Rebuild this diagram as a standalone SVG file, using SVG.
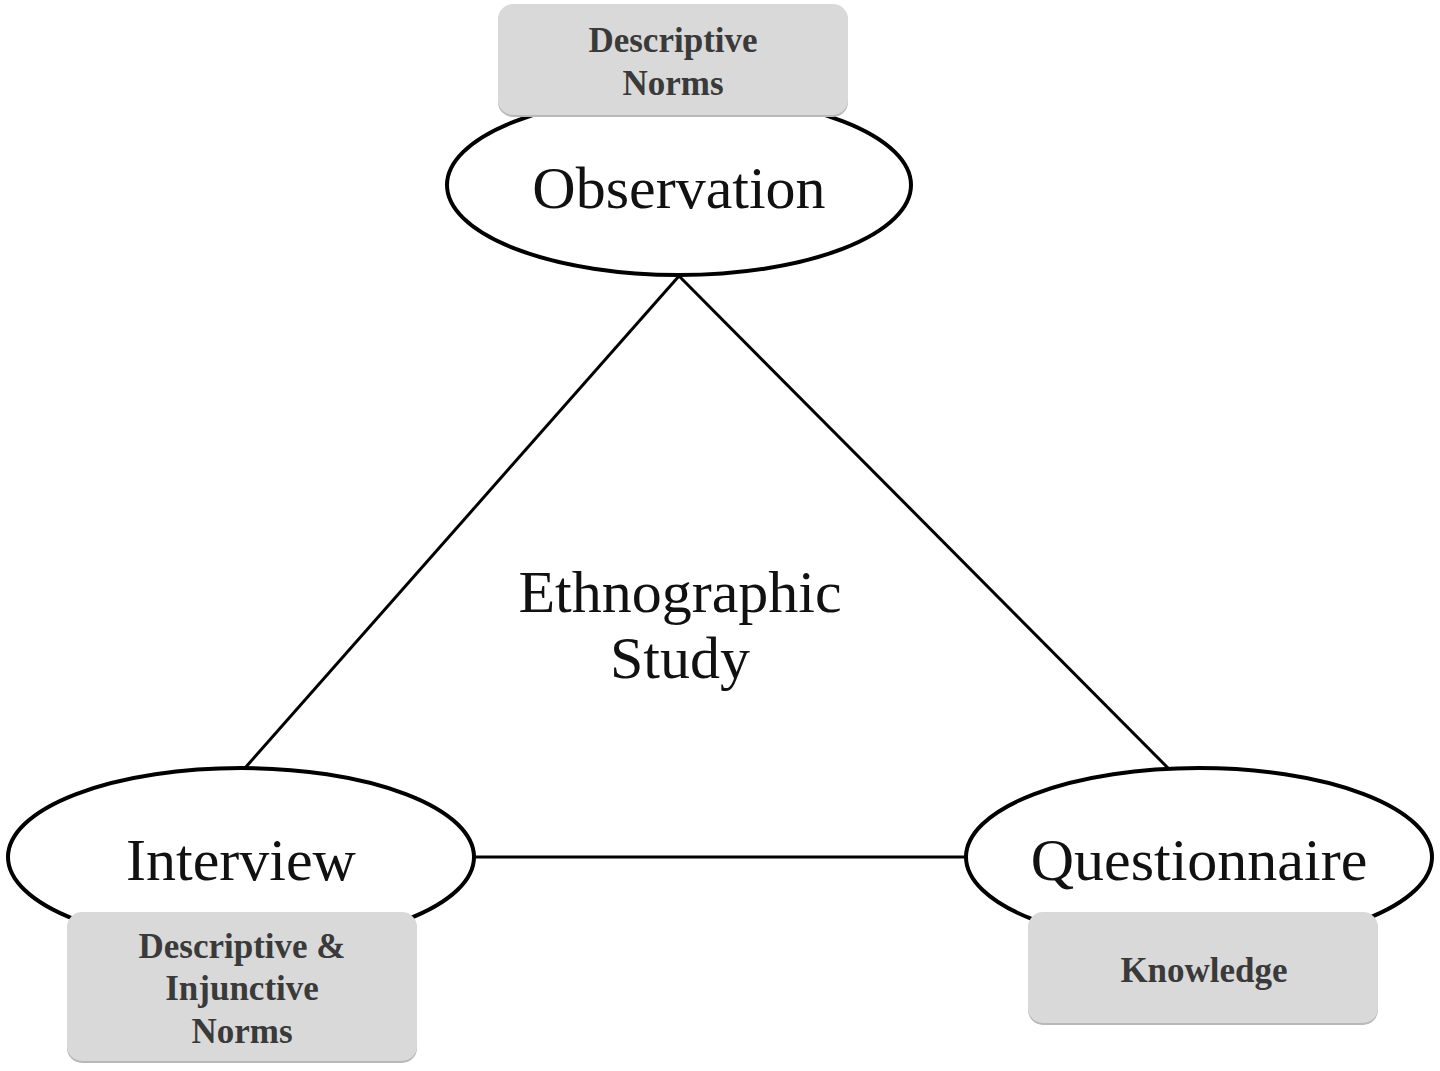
<svg xmlns="http://www.w3.org/2000/svg" width="1440" height="1071" viewBox="0 0 1440 1071">
<style>
.ell{fill:#fff;stroke:#000;stroke-width:4}
.box{fill:#d9d9d9}
.sh{fill:#b8b8b8}
.big{font-family:"Liberation Serif",serif;font-size:60px;fill:#111;text-anchor:middle}
.small{font-family:"Liberation Serif",serif;font-size:35px;fill:#3a3a3a;text-anchor:middle;font-weight:bold}
.con{stroke:#000;stroke-width:3;fill:none}
</style>
<rect width="1440" height="1071" fill="#fff"/>
<g id="connectors">
<line class="con" x1="679" y1="276" x2="245" y2="768"/>
<line class="con" x1="679" y1="276" x2="1168" y2="768"/>
<line class="con" x1="474" y1="857" x2="966" y2="857"/>
</g>
<g id="observation">
<ellipse class="ell" cx="679" cy="185" rx="232" ry="90"/>
<text class="big" x="679" y="208">Observation</text>
</g>
<g id="interview">
<ellipse class="ell" cx="241" cy="857" rx="233" ry="89"/>
<text class="big" x="241" y="880">Interview</text>
</g>
<g id="questionnaire">
<ellipse class="ell" cx="1199" cy="857" rx="233" ry="89"/>
<text class="big" x="1199" y="880">Questionnaire</text>
</g>
<g id="center-label">
<text class="big" x="680" y="612">Ethnographic</text>
<text class="big" x="680" y="678">Study</text>
</g>
<g id="descriptive-norms">
<rect class="sh" x="498" y="6" width="350" height="111" rx="15"/>
<rect class="box" x="498" y="4" width="350" height="111" rx="15"/>
<text class="small" x="673" y="52">Descriptive</text>
<text class="small" x="673" y="95">Norms</text>
</g>
<g id="descriptive-injunctive-norms">
<rect class="sh" x="67" y="914" width="350" height="149" rx="15"/>
<rect class="box" x="67" y="912" width="350" height="149" rx="15"/>
<text class="small" x="242" y="958">Descriptive &amp;</text>
<text class="small" x="242" y="1000">Injunctive</text>
<text class="small" x="242" y="1043">Norms</text>
</g>
<g id="knowledge">
<rect class="sh" x="1028" y="914" width="350" height="111" rx="15"/>
<rect class="box" x="1028" y="912" width="350" height="111" rx="15"/>
<text class="small" x="1204" y="982">Knowledge</text>
</g>
</svg>
